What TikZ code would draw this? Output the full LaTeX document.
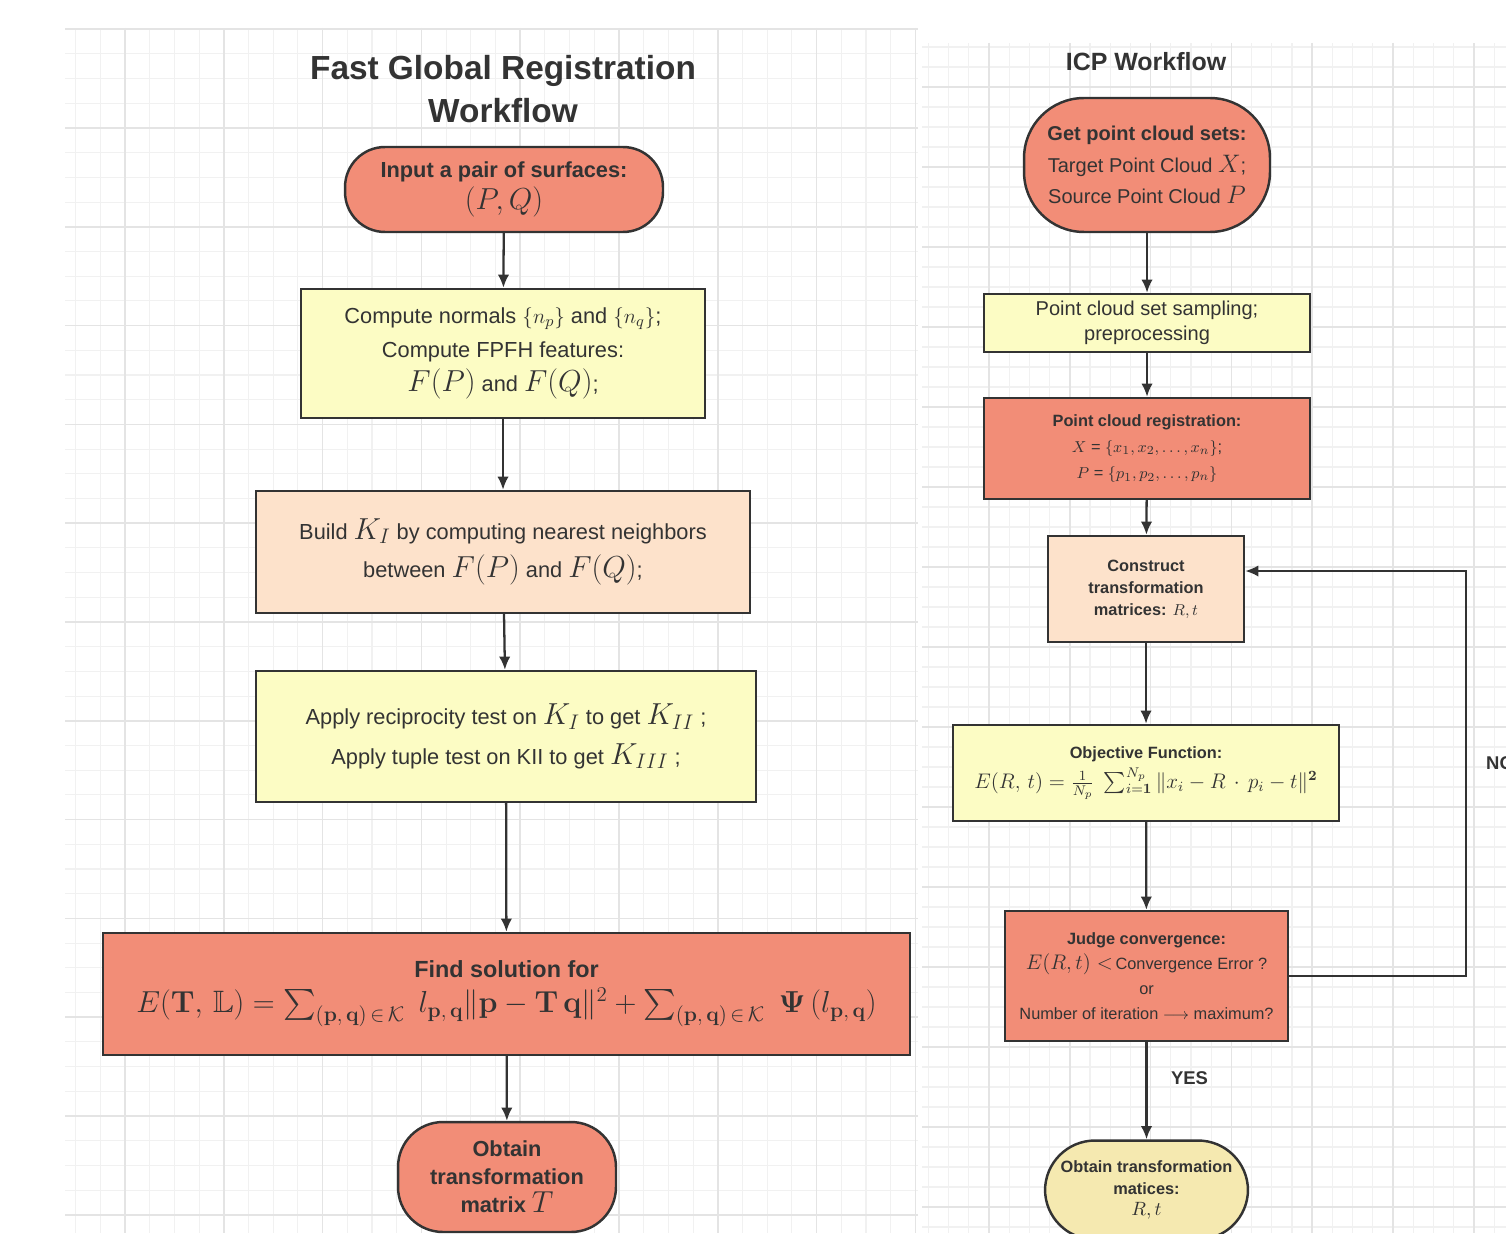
\documentclass[tikz,border=0pt]{standalone}
\usepackage[svgnames]{xcolor}
\usepackage{amsmath}
\usepackage{amssymb}
\usepackage[no-math]{fontspec}
\setmainfont{Liberation Sans}
\usetikzlibrary{arrows.meta}

\definecolor{salmonbox}{RGB}{242,141,119}
\definecolor{yellowbox}{RGB}{252,252,196}
\definecolor{peachbox}{RGB}{253,226,203}
\definecolor{khakibox}{RGB}{245,233,176}
\definecolor{inkgray}{RGB}{51,51,51}
\definecolor{gridMinorC}{RGB}{241,241,241}
\definecolor{gridMajorC}{RGB}{228,228,228}

\newcommand\mbig[1]{{\fontsize{16.5}{18}\selectfont$#1$}}

\begin{document}
\begin{tikzpicture}[x=0.02cm, y=-0.02cm,
  box/.style={draw=inkgray, line width=1.4pt, text=inkgray, align=center, inner sep=0pt},
  arr/.style={draw=inkgray, line width=1.3pt, -{Latex[length=7.5pt,width=6.5pt]}},
  gminor/.style={draw=gridMinorC, line width=0.6pt},
  gmajor/.style={draw=gridMajorC, line width=0.9pt}]
\useasboundingbox (0,0) rectangle (1506,1233);

% grid of the left panel
\foreach \k in {0,...,34}
{\draw[gminor] ({75.6+24.7*\k},28) -- ({75.6+24.7*\k},1233);}
\foreach \k in {0,...,48}
{\draw[gminor] (65,{29.2+24.7*\k}) -- (918,{29.2+24.7*\k});}
\foreach \k in {0,...,8}
{\draw[gmajor] ({125+98.8*\k},28) -- ({125+98.8*\k},1233);}
\foreach \k in {0,...,12}
{\draw[gmajor] (65,{29.2+98.8*\k}) -- (918,{29.2+98.8*\k});}

% grid of the right panel
\fill[white] (922,43) rectangle (1506,1233);
\foreach \k in {0,...,28}
{\draw[gminor] ({928.4+20.2*\k},43) -- ({928.4+20.2*\k},1233);}
\foreach \k in {0,...,59}
{\draw[gminor] (922,{47+20*\k}) -- (1506,{47+20*\k});}
\foreach \k in {0,...,6}
{\draw[gmajor] ({989+80.8*\k},43) -- ({989+80.8*\k},1233);}
\foreach \k in {0,...,14}
{\draw[gmajor] (922,{87+80*\k}) -- (1506,{87+80*\k});}

% Fast Global Registration
\node[text=inkgray, align=center, font=\fontsize{19}{24}\selectfont\bfseries] (fgrTitle) at (503,89) {Fast Global Registration\\Workflow};
\node[box, fill=salmonbox, rounded corners=0.8cm, minimum width=6.36cm, minimum height=1.7cm, font=\fontsize{12.4}{18.5}\selectfont] (input) at (504,189.5)
  {\textbf{Input a pair of surfaces:}\\ \mbig{(P,Q)}};
\node[box, fill=yellowbox, minimum width=8.08cm, minimum height=2.58cm, font=\fontsize{12.4}{19.5}\selectfont] (normals) at (503,353.5)
  {Compute normals $\{n_p\}$ and $\{n_q\}$;\\ Compute FPFH features:\\ \mbig{F(P)} and \mbig{F(Q)};};
\node[box, fill=peachbox, minimum width=9.88cm, minimum height=2.44cm, font=\fontsize{12.4}{22}\selectfont] (build) at (503,552)
  {Build \mbig{K_I} by computing nearest neighbors\\ between \mbig{F(P)} and \mbig{F(Q)};};
\node[box, fill=yellowbox, minimum width=10cm, minimum height=2.62cm, font=\fontsize{12.4}{22.5}\selectfont] (tests) at (506,736.5)
  {Apply reciprocity test on \mbig{K_I} to get \mbig{K_{II}} ;\\ Apply tuple test on KII to get \mbig{K_{III}} ;};
\node[box, fill=salmonbox, minimum width=16.14cm, minimum height=2.44cm, font=\fontsize{13.3}{20}\selectfont] (solve) at (506.5,994)
  {\textbf{Find solution for}\\ {\fontsize{17.6}{20}\selectfont$E(\mathbf{T},\,\mathbb{L})=\sum_{(\mathbf{p},\,\mathbf{q})\,\in\,\mathcal{K}}\ l_{\mathbf{p},\,\mathbf{q}}\|\mathbf{p}-\mathbf{T}\,\mathbf{q}\|^2+\sum_{(\mathbf{p},\,\mathbf{q})\,\in\,\mathcal{K}}\ \boldsymbol{\Psi}\left(l_{\mathbf{p},\,\mathbf{q}}\right)$}};
\node[box, fill=salmonbox, rounded corners=0.9cm, minimum width=4.36cm, minimum height=2.2cm, font=\fontsize{12.4}{16}\selectfont\bfseries] (matrixT) at (507,1177)
  {Obtain\\ transformation\\ matrix \mbig{T}};

\draw[arr] (input) -- (normals);
\draw[arr] (normals) -- (build);
\draw[arr] (build) -- (tests);
\draw[arr] (tests) -- (solve);
\draw[arr] (solve) -- (matrixT);

% ICP
\node[text=inkgray, font=\fontsize{14.2}{17}\selectfont\bfseries] (icpTitle) at (1146,62) {ICP Workflow};
\node[box, fill=salmonbox, rounded corners=1.2cm, minimum width=4.92cm, minimum height=2.68cm, font=\fontsize{11.4}{18}\selectfont] (clouds) at (1147,165)
  {\textbf{Get point cloud sets:}\\ Target Point Cloud {\fontsize{14}{16}\selectfont$X$};\\ Source Point Cloud {\fontsize{14}{16}\selectfont$P$}};
\node[box, fill=yellowbox, minimum width=6.52cm, minimum height=1.16cm, font=\fontsize{11.4}{14}\selectfont] (sampling) at (1147,323)
  {Point cloud set sampling;\\ preprocessing};
\node[box, fill=salmonbox, minimum width=6.52cm, minimum height=2.02cm, font=\fontsize{9.3}{15}\selectfont] (registration) at (1147,448.5)
  {\textbf{Point cloud registration:}\\ $X$ = $\{x_1, x_2, \dots, x_n\}$;\\ $P$ = $\{p_1, p_2, \dots, p_n\}$};
\node[box, fill=peachbox, minimum width=3.92cm, minimum height=2.12cm, font=\fontsize{9.3}{12.5}\selectfont\bfseries] (construct) at (1146,589)
  {Construct\\ transformation\\ matrices: $R,t$};
\node[box, fill=yellowbox, minimum width=7.72cm, minimum height=1.92cm, font=\fontsize{9.3}{17}\selectfont] (objective) at (1146,773)
  {\textbf{Objective Function:}\\ {\fontsize{12}{17}\selectfont$E(R,\,t)=\frac{1}{N_p}\ \sum_{i=\mathbf{1}}^{N_p}\|x_i-R\,\cdot\,p_i-t\|^{\mathbf{2}}$}};
\node[box, fill=salmonbox, minimum width=5.66cm, minimum height=2.6cm, font=\fontsize{9.3}{14.2}\selectfont] (judge) at (1146.5,976)
  {\textbf{Judge convergence:}\\ {\fontsize{12.5}{14}\selectfont$E(R,t)<$}\,Convergence Error ?\\ or\\ Number of iteration $\longrightarrow$ maximum?};
\node[box, fill=khakibox, rounded corners=1cm, minimum width=4.06cm, minimum height=1.98cm, font=\fontsize{9.3}{12}\selectfont] (result) at (1146.5,1190)
  {\textbf{Obtain transformation}\\ \textbf{matices:}\\ {\fontsize{11}{14}\selectfont$R,t$}};

\coordinate (loopB) at (1466,976);
\coordinate (loopT) at (1466,571);
\draw[arr] (clouds) -- (sampling);
\draw[arr] (sampling) -- (registration);
\draw[arr] (registration) -- (construct);
\draw[arr] (construct) -- (objective);
\draw[arr] (objective) -- (judge);
\draw[arr] (judge) -- node[pos=0.37, right=0.35cm, text=inkgray, font=\fontsize{10.5}{12}\selectfont\bfseries]{YES} (result);
\draw[arr] (judge.east) -- (loopB) -- (loopT) -- (loopT -| construct.east);
\node[anchor=west, text=inkgray, font=\fontsize{10.5}{12}\selectfont\bfseries] (noLbl) at (1480,763) {NO};

\end{tikzpicture}
\end{document}
